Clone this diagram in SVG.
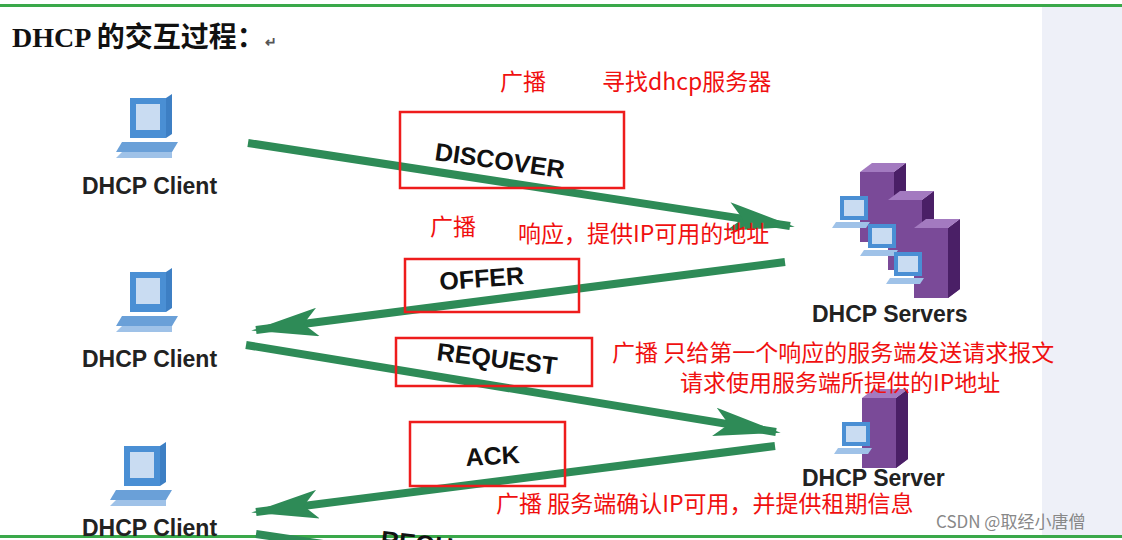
<svg xmlns="http://www.w3.org/2000/svg" width="1122" height="540" viewBox="0 0 1122 540">
<style>
.lbl{font-family:"Liberation Sans",Arial,sans-serif;font-weight:bold;font-size:23px;fill:#222}
.msg{font-family:"Liberation Sans",Arial,sans-serif;font-weight:bold;font-size:25px;fill:#111}
.red{font-family:"Noto Sans CJK SC","Liberation Sans",sans-serif;font-size:23px;fill:#f01010}
.box{fill:none;stroke:#ee1c1c;stroke-width:2.5}
.arr{stroke:#2e8b57;stroke-width:8;fill:none;marker-end:url(#ah)}
</style>
<defs>
<marker id="ah" viewBox="0 0 14 6" refX="13" refY="3" markerWidth="9" markerHeight="3.6" orient="auto" markerUnits="strokeWidth"><path d="M0,0 L14,3 L0,6 L3,3 Z" fill="#2e8b57"/></marker>
<g id="pc">
<path d="M12,0 h36 l6,-4 v40 l-6,4 h-36 z" fill="#3d7fc4"/>
<rect x="12" y="0" width="36" height="40" fill="#4a8fd4"/>
<rect x="18" y="6" width="24" height="26" fill="#c9dcf2"/>
<path d="M4,44 h56 l-6,10 h-56 z" fill="#6aa0d8"/>
<path d="M4,54 h50 v6 h-56 z" fill="#9fc2e8"/>
</g>
<g id="srv">
<path d="M22,0 h34 l12,-9 v70 l-12,9 h-34 z" fill="#7a4a98"/>
<path d="M56,0 l12,-9 v70 l-12,9 z" fill="#4a1f66"/>
<path d="M22,0 l12,-9 h34 l-12,9 z" fill="#a37ac0"/>
<rect x="2" y="24" width="28" height="24" fill="#4a8fd4"/>
<rect x="6" y="28" width="20" height="16" fill="#c9dcf2"/>
<path d="M-2,50 h34 l-4,6 h-34 z" fill="#9fc2e8"/>
</g>
</defs>
<rect width="1122" height="540" fill="#fff"/>
<rect x="1042" y="6" width="80" height="530" fill="#eef0f8"/>
<rect x="0" y="4" width="1122" height="3" fill="#3aa84a"/>
<rect x="0" y="535" width="1122" height="3" fill="#3aa84a"/>
<text x="12" y="47" font-family="'Liberation Serif','Noto Sans CJK SC',serif" font-weight="bold" font-size="28" fill="#111">DHCP 的交互过程：<tspan font-size="14" fill="#555">↵</tspan></text>

<g id="client1"><use href="#pc" x="118" y="98"/><text class="lbl" x="82" y="194">DHCP Client</text></g>
<g id="client2"><use href="#pc" x="118" y="272"/><text class="lbl" x="82" y="367">DHCP Client</text></g>
<g id="client3"><use href="#pc" x="112" y="446"/><text class="lbl" x="82" y="536">DHCP Client</text></g>
<g id="servers"><use href="#srv" x="838" y="172"/><use href="#srv" x="866" y="200"/><use href="#srv" x="892" y="228"/><text class="lbl" x="812" y="322">DHCP Servers</text></g>
<g id="server"><use href="#srv" x="840" y="398"/><text class="lbl" x="802" y="486">DHCP Server</text></g>

<g id="connectors">
<line class="arr" x1="248" y1="143" x2="790" y2="226"/>
<line class="arr" x1="785" y1="262" x2="256" y2="330"/>
<line class="arr" x1="246" y1="345" x2="776" y2="432"/>
<line class="arr" x1="775" y1="446" x2="256" y2="512"/>
<line stroke="#2e8b57" stroke-width="8" x1="256" y1="534" x2="330" y2="545"/>
</g>

<g id="labels">
<rect class="box" x="400" y="112" width="224" height="76"/>
<text class="msg" transform="translate(434,160) rotate(8)">DISCOVER</text>
<rect class="box" x="405" y="259" width="174" height="53"/>
<text class="msg" transform="translate(440,290) rotate(-4)">OFFER</text>
<rect class="box" x="396" y="338" width="196" height="48"/>
<text class="msg" transform="translate(436,360) rotate(7)">REQUEST</text>
<rect class="box" x="410" y="422" width="155" height="64"/>
<text class="msg" transform="translate(466,466) rotate(-3)">ACK</text>
<text class="msg" transform="translate(380,548) rotate(6)">REQU</text>
</g>

<g id="notes">
<text class="red" x="500" y="90">广播</text>
<text class="red" x="602" y="90">寻找dhcp服务器</text>
<text class="red" x="430" y="235">广播</text>
<text class="red" x="518" y="242">响应，提供IP可用的地址</text>
<text class="red" x="612" y="361">广播  只给第一个响应的服务端发送请求报文</text>
<text class="red" x="680" y="391">请求使用服务端所提供的IP地址</text>
<text class="red" x="496" y="512">广播  服务端确认IP可用，并提供租期信息</text>
<text x="936" y="528" font-family="'Noto Sans CJK SC',sans-serif" font-size="17" fill="#888">CSDN @取经小唐僧</text>
</g>
</svg>
